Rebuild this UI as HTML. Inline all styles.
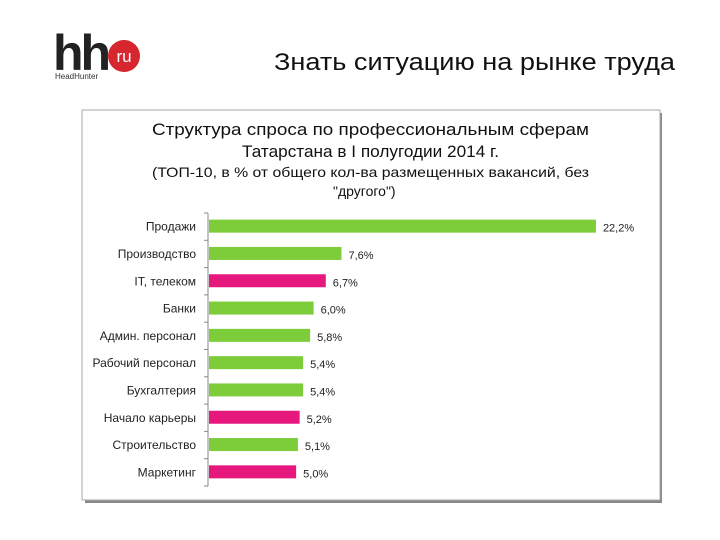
<!DOCTYPE html>
<html><head><meta charset="utf-8"><style>
body{margin:0;width:720px;height:540px;background:#fff;overflow:hidden;font-family:"Liberation Sans",sans-serif;}
</style></head><body>
<svg width="720" height="540" style="position:absolute;left:0;top:0">
<g>
<text x="53" y="70" font-size="50" font-weight="bold" fill="#222" letter-spacing="-3" font-family="Liberation Sans, sans-serif">hh</text>
<circle cx="124" cy="56" r="16" fill="#d6262e"/>
<text x="124" y="62" font-size="17" fill="#fff" text-anchor="middle" font-family="Liberation Sans, sans-serif">ru</text>
<text x="55" y="79" font-size="8" fill="#333" font-family="Liberation Sans, sans-serif">HeadHunter</text>
</g>
<text x="274" y="70" font-size="24" fill="#111" textLength="401" lengthAdjust="spacingAndGlyphs" font-family="Liberation Sans, DejaVu Sans, sans-serif">Знать ситуацию на рынке труда</text>
<rect x="85" y="113" width="577" height="390" fill="#888"/>
<rect x="82" y="110" width="578" height="390" fill="#fff" stroke="#aaa" stroke-width="1"/>
<g font-family="Liberation Sans, sans-serif" fill="#111">
<text x="152" y="135" font-size="17" textLength="437" lengthAdjust="spacingAndGlyphs">Структура спроса по профессиональным сферам</text>
<text x="242" y="157" font-size="17" textLength="257" lengthAdjust="spacingAndGlyphs">Татарстана в I полугодии 2014 г.</text>
<text x="152" y="177" font-size="14" textLength="437" lengthAdjust="spacingAndGlyphs">(ТОП-10, в % от общего кол-ва размещенных вакансий, без</text>
<text x="333" y="196" font-size="14">"другого")</text>
</g>
<g id="plot"></g>
</svg>
<script>
const categories=["Продажи","Производство","IT, телеком","Банки","Админ. персонал","Рабочий персонал","Бухгалтерия","Начало карьеры","Строительство","Маркетинг"];
const values=[22.2,7.6,6.7,6.0,5.8,5.4,5.4,5.2,5.1,5.0];
const highlight=[0,0,1,0,0,0,0,1,0,1];
const labels=["22,2%","7,6%","6,7%","6,0%","5,8%","5,4%","5,4%","5,2%","5,1%","5,0%"];
const NS="http://www.w3.org/2000/svg";
const plotG=document.getElementById('plot');
const x0=208, xs=17.43, yTop=213, step=27.3;
const xPos=v=>x0+v*xs;
const yPos=i=>yTop+step*i+step/2;
function mk(t,a){const e=document.createElementNS(NS,t);for(const k in a)e.setAttribute(k,a[k]);plotG.appendChild(e);return e;}
const ax=mk('line',{x1:x0,y1:yTop,x2:x0,y2:yTop+step*categories.length,stroke:'#888'});


for(let i=0;i<=categories.length;i++){mk('line',{x1:x0-4,x2:x0,y1:yTop+step*i,y2:yTop+step*i,stroke:'#888'});}
categories.forEach((c,i)=>{
 const b=mk('rect',{x:x0+1,y:yPos(i)-7,width:xPos(values[i])-x0,height:13,fill:highlight[i]?'#e6187d':'#7dcc3a'});
 
 
 const t=mk('text',{x:x0-12,y:yPos(i)+4,'font-size':12,'text-anchor':'end',fill:'#222','font-family':'Liberation Sans, sans-serif'});
 t.textContent=c;
 
 
 const v=mk('text',{x:xPos(values[i])+8,y:yPos(i)+5,'font-size':11,fill:'#222','font-family':'Liberation Sans, sans-serif'});
 v.textContent=labels[i];
 
 
});
</script>
</body></html>
